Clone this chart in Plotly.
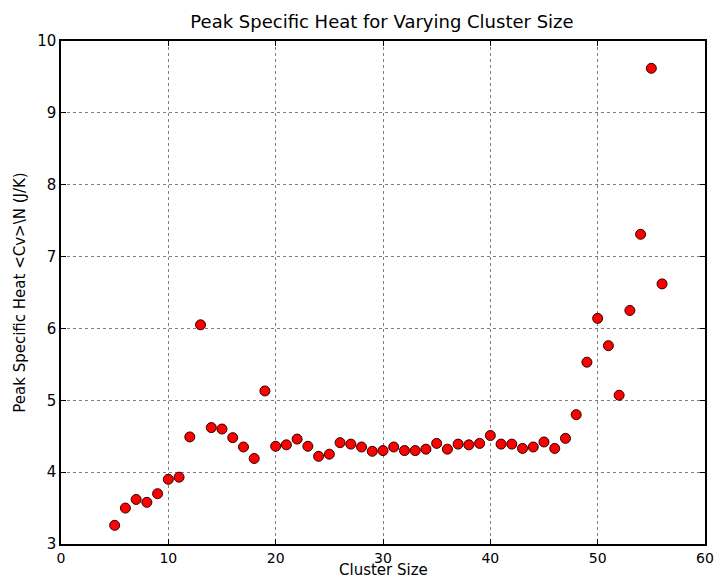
import plotly.graph_objects as go

# Cluster sizes and the peak specific heat measured for each
cluster_size = list(range(5, 57))
peak_cv = [
    3.26, 3.50, 3.62, 3.58, 3.70, 3.90, 3.93, 4.49, 6.05, 4.62,
    4.60, 4.48, 4.35, 4.19, 5.13, 4.36, 4.38, 4.46, 4.36, 4.22,
    4.25, 4.41, 4.39, 4.35, 4.29, 4.30, 4.35, 4.30, 4.30, 4.32,
    4.40, 4.32, 4.39, 4.38, 4.40, 4.51, 4.39, 4.39, 4.33, 4.35,
    4.42, 4.33, 4.47, 4.80, 5.53, 6.14, 5.76, 5.07, 6.25, 7.31,
    9.62, 6.62,
]

x_ticks = [0, 10, 20, 30, 40, 50, 60]
y_ticks = [3, 4, 5, 6, 7, 8, 9, 10]

FONT = "DejaVu Sans"
PLOT_H = 580 - 41 - 36  # height of the plotting area in px

fig = go.Figure(
    go.Scatter(
        x=cluster_size,
        y=peak_cv,
        mode="markers",
        marker=dict(size=10, color="#ff0000", line=dict(color="#2a0000", width=1)),
        showlegend=False,
    )
)

axis_common = dict(
    showline=True,
    linecolor="black",
    linewidth=1.5,
    mirror="allticks",
    ticks="inside",
    ticklen=5,
    tickcolor="black",
    showgrid=True,
    gridcolor="rgba(0,0,0,0.5)",
    griddash="dot",
    gridwidth=1,
    zeroline=False,
    automargin=False,
    ticklabeloverflow="allow",
    tickfont=dict(family=FONT, size=15, color="black"),
)

fig.update_xaxes(range=[0, 60], tickvals=x_ticks, **axis_common)
fig.update_xaxes(tickfont=dict(family=FONT, size=14, color="black"))
fig.update_yaxes(
    range=[3, 10],
    tickvals=y_ticks,
    title=dict(
        text="Peak Specific Heat &lt;Cv&gt;\\N (J/K)",
        font=dict(family=FONT, size=15, color="black"),
        standoff=8,
    ),
    **axis_common,
)

# x-axis title sitting at the bottom edge, under the tick labels
fig.add_annotation(
    text="Cluster Size",
    xref="paper",
    yref="paper",
    x=0.5,
    y=-35.5 / PLOT_H,
    xanchor="center",
    yanchor="bottom",
    borderpad=0,
    showarrow=False,
    font=dict(family=FONT, size=15, color="black"),
)

fig.update_layout(
    width=714,
    height=580,
    margin=dict(l=61, r=9, t=41, b=36),
    paper_bgcolor="white",
    plot_bgcolor="white",
    title=dict(
        text="Peak Specific Heat for Varying Cluster Size",
        font=dict(family=FONT, size=18, color="black"),
        x=0.535,
        xanchor="center",
        y=0.962,
        yanchor="middle",
    ),
)

fig.write_html("out.html")
